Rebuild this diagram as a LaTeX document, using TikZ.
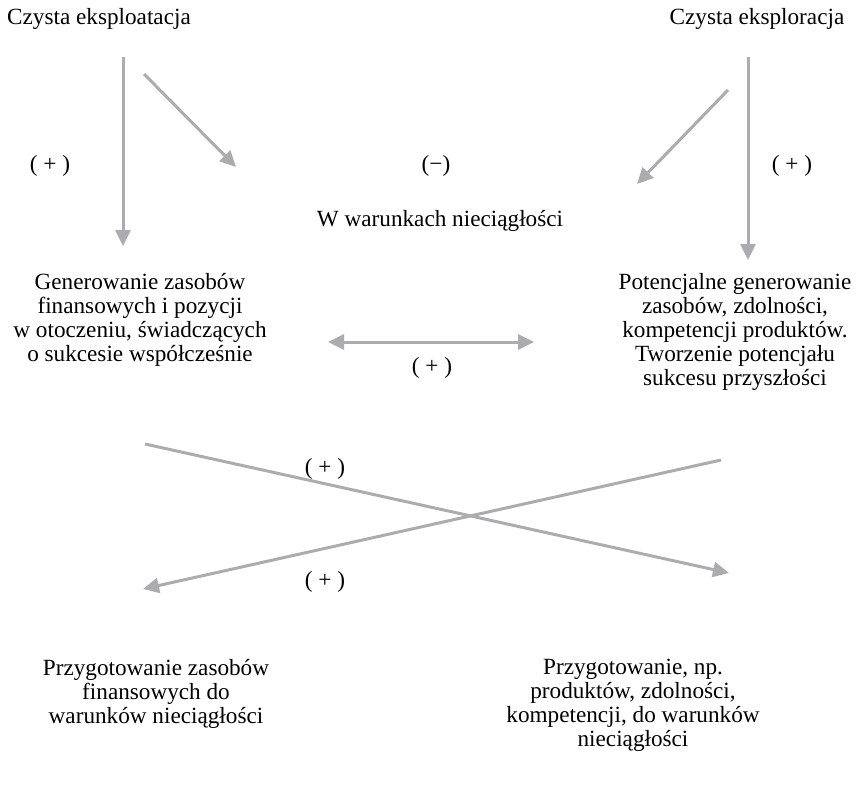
\documentclass[tikz,border=0pt]{standalone}
\usepackage{fontspec}
\setmainfont{Liberation Serif}
\usetikzlibrary{arrows.meta}
\definecolor{szary}{RGB}{172,172,176}

\begin{document}
\begin{tikzpicture}[x=1pt,y=-1pt,
	txt/.style={align=center,inner sep=0pt,font=\fontsize{23.2}{24}\selectfont},
	arr/.style={draw=szary,line width=3pt,-{Triangle[length=16pt,width=15pt]}},
	darr/.style={draw=szary,line width=3pt,{Triangle[length=16pt,width=15pt]}-{Triangle[length=16pt,width=15pt]}}]
			\useasboundingbox (0,0) rectangle (856,798);
			\node[txt] at(99,19) (eksploatacja)  {Czysta eksploatacja};
			\node[txt] at(757,19) (eksploracja)  {Czysta eksploracja};
			\node[txt] at(50,166) (plusL)  {( + )};
			\node[txt] at(436,166) (minus)  {(−)};
			\node[txt] at(792,166) (plusR)  {( + )};
			\node[txt] at(440,221) (warunki)  {W warunkach nieciągłości};
			\node[txt,anchor=north] at(140,273) (generowanie)  {Generowanie zasobów\\finansowych i pozycji\\w otoczeniu, świadczących\\o sukcesie współcześnie};
			\node[txt,anchor=north] at(735,273) (potencjal)  {Potencjalne generowanie\\zasobów, zdolności,\\kompetencji produktów.\\Tworzenie potencjału\\sukcesu przyszłości};
			\node[txt] at(432,368) (plusM)  {( + )};
			\node[txt] at(325,469) (plusX1)  {( + )};
			\node[txt] at(325,582) (plusX2)  {( + )};
			\node[txt,anchor=north] at(156,659) (finanse)  {Przygotowanie zasobów\\finansowych do\\warunków nieciągłości};
			\node[txt,anchor=north] at(633,659) (produkty)  {Przygotowanie, np.\\produktów, zdolności,\\kompetencji, do warunków\\nieciągłości};
			
			\coordinate (a1) at (123,57);  \coordinate (a2) at (123,246);
			\coordinate (b1) at (144,74);  \coordinate (b2) at (236,167);
			\coordinate (c1) at (728,90);  \coordinate (c2) at (637,184);
			\coordinate (d1) at (748,57);  \coordinate (d2) at (748,260);
			\coordinate (e1) at (328,342); \coordinate (e2) at (534,342);
			\coordinate (f1) at (145,444); \coordinate (f2) at (729,573);
			\coordinate (g1) at (721,460); \coordinate (g2) at (143,589);
			
			\draw[arr] (a1) -- (a2);
			\draw[arr] (b1) -- (b2);
			\draw[arr] (c1) -- (c2);
			\draw[arr] (d1) -- (d2);
			\draw[darr] (e1) -- (e2);
			\draw[arr] (f1) -- (f2);
			\draw[arr] (g1) -- (g2);
			\end{tikzpicture}
\end{document}
